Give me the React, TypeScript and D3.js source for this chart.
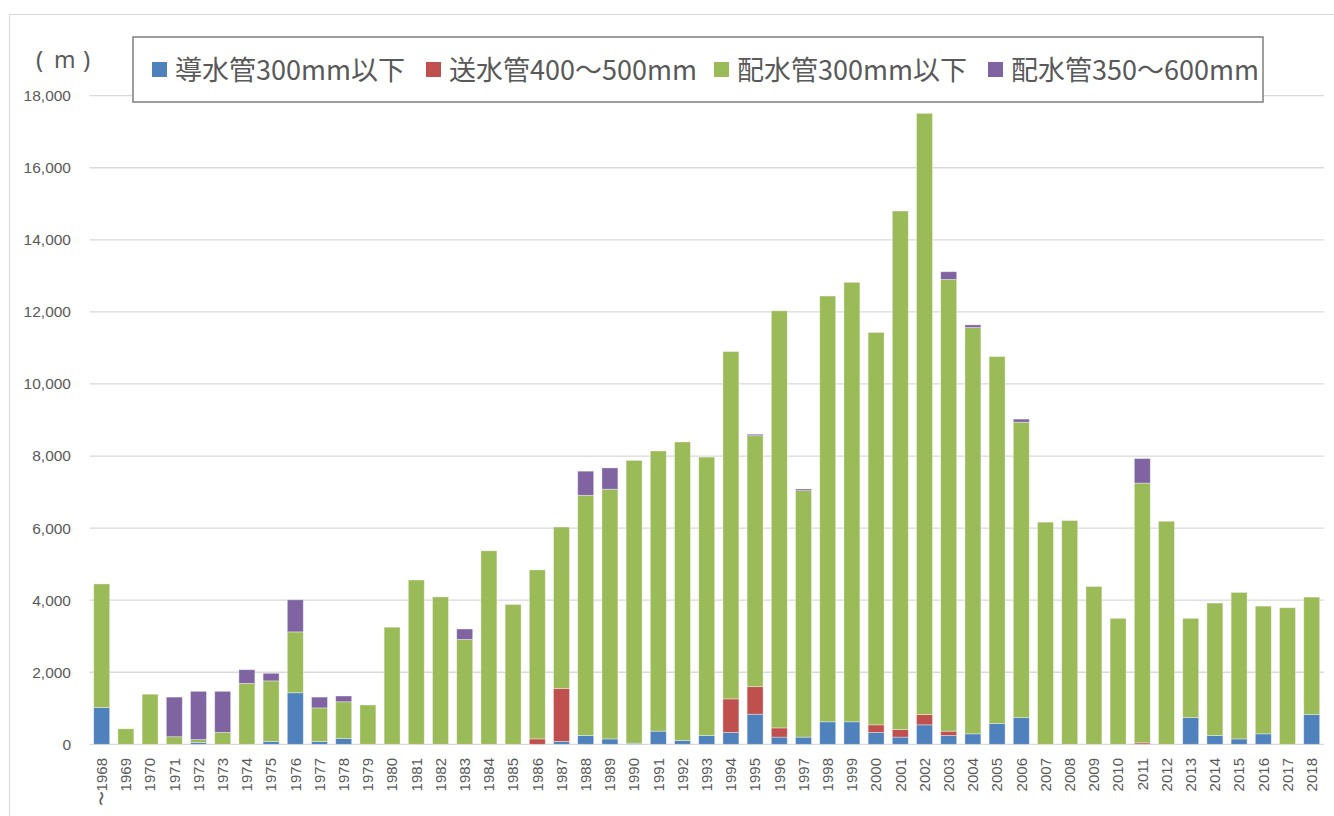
import React from 'react';
import * as d3 from 'd3';

// pipe length installed per year (m)
const years = [
  '〜1968', '1969', '1970', '1971', '1972', '1973', '1974', '1975', '1976', '1977',
  '1978', '1979', '1980', '1981', '1982', '1983', '1984', '1985', '1986', '1987',
  '1988', '1989', '1990', '1991', '1992', '1993', '1994', '1995', '1996', '1997',
  '1998', '1999', '2000', '2001', '2002', '2003', '2004', '2005', '2006', '2007',
  '2008', '2009', '2010', '2011', '2012', '2013', '2014', '2015', '2016', '2017', '2018',
];

const seriesNames = ['導水管300mm以下', '送水管400〜500mm', '配水管300mm以下', '配水管350〜600mm'];

const intake300 = [
  1020, 0, 0, 0, 50, 0, 0, 80, 1430, 80,
  160, 0, 0, 0, 0, 0, 0, 0, 0, 80,
  245, 150, 30, 365, 105, 245, 330, 835, 200, 200,
  625, 625, 330, 200, 540, 245, 290, 575, 740, 0,
  0, 0, 0, 0, 0, 740, 245, 150, 290, 0, 825,
];
const transmit400 = [
  0, 0, 0, 0, 0, 0, 0, 0, 0, 0,
  0, 0, 0, 0, 0, 0, 0, 0, 150, 1470,
  0, 0, 0, 0, 0, 0, 930, 765, 255, 0,
  0, 0, 210, 210, 285, 120, 0, 0, 0, 0,
  0, 0, 0, 40, 0, 0, 0, 0, 0, 0, 0,
];
const dist300 = [
  3430, 430, 1390, 210, 80, 330, 1690, 1680, 1690, 930,
  1020, 1090, 3250, 4560, 4090, 2910, 5370, 3880, 4690, 4480,
  6665, 6930, 7850, 7775, 8285, 7725, 9640, 6965, 11575, 6840,
  11815, 12195, 10890, 14390, 16685, 12535, 11275, 10185, 8200, 6165,
  6210, 4380, 3495, 7210, 6190, 2755, 3675, 4065, 3545, 3790, 3260,
];
const dist350 = [
  0, 0, 0, 1100, 1340, 1140, 380, 210, 890, 300,
  160, 0, 0, 0, 0, 290, 0, 0, 0, 0,
  670, 590, 0, 0, 0, 0, 0, 40, 0, 45,
  0, 0, 0, 0, 0, 215, 75, 0, 85, 0,
  0, 0, 0, 680, 0, 0, 0, 0, 0, 0, 0,
];

const yTicks = [0, 2000, 4000, 6000, 8000, 10000, 12000, 14000, 16000, 18000];
const colors = ['#4f81bd', '#c0504d', '#9bbb59', '#8064a2'];

const W = 1334;
const H = 816;
const plot = { left: 89.6, right: 1323.8, top: 95.7, bottom: 744.3 };
const textColor = '#595959';
const gridColor = '#d9d9d9';

const App = () => {
  const keys = ['a', 'b', 'c', 'd'];
  const rows = years.map((y, i) => ({
    year: y,
    a: intake300[i],
    b: transmit400[i],
    c: dist300[i],
    d: dist350[i],
  }));
  const stacked = d3.stack<any>().keys(keys)(rows);

  const x = d3.scaleBand()
    .domain(years)
    .range([plot.left, plot.right])
    .paddingInner(0.34)
    .paddingOuter(0.17);
  const y = d3.scaleLinear().domain([0, 18000]).range([plot.bottom, plot.top]);
  const fmt = d3.format(',');

  // legend squares
  const legendX = [152, 426, 714, 988];

  return (
    <div style={{ position: 'absolute', left: 0, top: 0 }}>
      <svg width={W} height={H} style={{ display: 'block', background: '#fff' }}>
        <rect x={9.5} y={14.5} width={W + 20} height={H + 20} fill="#fff" stroke={gridColor} strokeWidth={1} />

        {yTicks.map(t => (
          <g key={t}>
            <line x1={plot.left} x2={plot.right} y1={y(t)} y2={y(t)} stroke={gridColor} strokeWidth={1.3} />
            <text
              x={71}
              y={y(t)}
              dy="0.35em"
              textAnchor="end"
              fontFamily="'Liberation Sans', Arial, sans-serif"
              fontSize={15.5}
              fill={textColor}
            >
              {fmt(t)}
            </text>
          </g>
        ))}

        {stacked.map((layer, li) => (
          <g key={layer.key} fill={colors[li]}>
            {layer.map((d, i) => {
              const h = y(d[0]) - y(d[1]);
              if (h <= 0) return null;
              return (
                <rect
                  key={i}
                  x={x(years[i])}
                  y={y(d[1])}
                  width={x.bandwidth()}
                  height={h}
                  stroke="#ffffff"
                  strokeOpacity={0.45}
                  strokeWidth={0.8}
                />
              );
            })}
          </g>
        ))}

        {years.map(yr => (
          <text
            key={yr}
            transform={`translate(${(x(yr) ?? 0) + x.bandwidth() / 2},758) rotate(-90)`}
            dy="0.35em"
            textAnchor="end"
            fontFamily="'Liberation Sans', Arial, sans-serif"
            fontSize={15}
            fill={textColor}
          >
            {yr}
          </text>
        ))}

        {/* unit label */}
        <text y={68} fontFamily="'Noto Sans', sans-serif" fill={textColor}>
          <tspan x={36} fontSize={24}>(</tspan>
          <tspan x={54} fontSize={23}>m</tspan>
          <tspan x={83} fontSize={24}>)</tspan>
        </text>

        <rect x={133} y={37} width={1130} height={65} fill="#fff" stroke="#7f7f7f" strokeWidth={1.5} />
        {seriesNames.map((name, i) => (
          <g key={name}>
            <rect x={legendX[i]} y={62} width={15} height={15} fill={colors[i]} />
            <text
              x={legendX[i] + 23}
              y={70}
              dy="0.36em"
              fontFamily="'Noto Sans CJK JP', sans-serif"
              fontSize={27}
              fill={textColor}
            >
              {name}
            </text>
          </g>
        ))}
      </svg>
    </div>
  );
};

export default App;
